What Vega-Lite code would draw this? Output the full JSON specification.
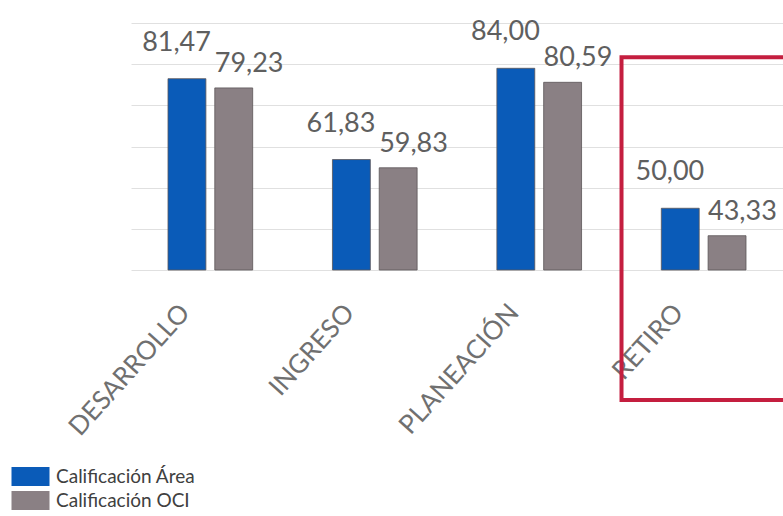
{
  "$schema": "https://vega.github.io/schema/vega-lite/v6.json",
  "autosize": "none",
  "width": 652,
  "height": 247,
  "padding": {"left": 131, "top": 23, "right": 0, "bottom": 246},
  "background": "white",
  "config": {
    "view": {"stroke": null},
    "font": "Lato",
    "locale": {"number": {"decimal": ",", "thousands": ".", "grouping": [3], "currency": ["$", ""]}}
  },
  "data": {
    "values": [
      {"cat": "DESARROLLO", "serie": "Calificación Área", "valor": 81.47},
      {"cat": "DESARROLLO", "serie": "Calificación OCI", "valor": 79.23},
      {"cat": "INGRESO", "serie": "Calificación Área", "valor": 61.83},
      {"cat": "INGRESO", "serie": "Calificación OCI", "valor": 59.83},
      {"cat": "PLANEACIÓN", "serie": "Calificación Área", "valor": 84.00},
      {"cat": "PLANEACIÓN", "serie": "Calificación OCI", "valor": 80.59},
      {"cat": "RETIRO", "serie": "Calificación Área", "valor": 50.00},
      {"cat": "RETIRO", "serie": "Calificación OCI", "valor": 43.33}
    ]
  },
  "encoding": {
    "x": {
      "field": "cat", "type": "nominal", "sort": null, "title": null,
      "scale": {"paddingInner": 0.485, "paddingOuter": 0.225},
      "axis": {
        "labelAngle": -48, "labelAlign": "right", "labelBaseline": "middle",
        "labelFontSize": 26, "labelColor": "#707070", "labelFont": "Lato",
        "labelPadding": 38, "labelOffset": -25, "ticks": false, "domain": false, "grid": false
      }
    },
    "y": {
      "field": "valor", "type": "quantitative", "title": null,
      "scale": {"domain": [35, 95], "nice": false, "zero": false},
      "axis": {"values": [35, 45, 55, 65, 75, 85, 95], "labels": false, "ticks": false, "domain": false,
               "grid": true, "gridColor": "#e0e0e0", "gridWidth": 1}
    }
  },
  "layer": [
    {
      "mark": {"type": "bar", "stroke": "#5c5658", "strokeWidth": 0.8},
      "encoding": {
        "xOffset": {"field": "serie", "type": "nominal", "sort": ["Calificación Área", "Calificación OCI"],
                    "scale": {"paddingInner": 0.19, "paddingOuter": 0}},
        "y2": {"datum": 35},
        "color": {
          "field": "serie", "type": "nominal", "title": null,
          "scale": {"domain": ["Calificación Área", "Calificación OCI"], "range": ["#0a5bb8", "#8a8084"]},
          "legend": {
            "orient": "none", "legendX": -110, "legendY": 444,
            "symbolType": "M-2,-1H2V1H-2Z", "symbolSize": 361, "symbolStrokeWidth": 0,
            "symbolOpacity": 1, "labelFontSize": 19, "labelColor": "#404040", "labelFont": "Lato",
            "labelOffset": 16, "rowPadding": 4
          }
        }
      }
    },
    {
      "transform": [{"filter": "datum.serie === 'Calificación Área'"}],
      "mark": {"type": "text", "align": "right", "baseline": "alphabetic", "dx": 24, "dy": -28,
               "fontSize": 27, "color": "#5f5f5f", "font": "Lato"},
      "encoding": {
        "xOffset": {"field": "serie", "type": "nominal", "sort": ["Calificación Área", "Calificación OCI"]},
        "text": {"field": "valor", "type": "quantitative", "format": ".2f"}
      }
    },
    {
      "transform": [{"filter": "datum.serie === 'Calificación OCI'"}],
      "mark": {"type": "text", "align": "left", "baseline": "alphabetic", "dx": -19, "dy": -16,
               "fontSize": 27, "color": "#5f5f5f", "font": "Lato"},
      "encoding": {
        "xOffset": {"field": "serie", "type": "nominal", "sort": ["Calificación Área", "Calificación OCI"]},
        "text": {"field": "valor", "type": "quantitative", "format": ".2f"}
      }
    },
    {
      "data": {"values": [{"cat": "RETIRO", "top": 86.7, "bottom": 3.4}]},
      "mark": {"type": "bar", "width": {"band": 1.94}, "fill": null, "fillOpacity": 0,
               "stroke": "#c41e3f", "strokeWidth": 4, "clip": false},
      "encoding": {
        "y": {"field": "top", "type": "quantitative"},
        "y2": {"field": "bottom"}
      }
    }
  ]
}
